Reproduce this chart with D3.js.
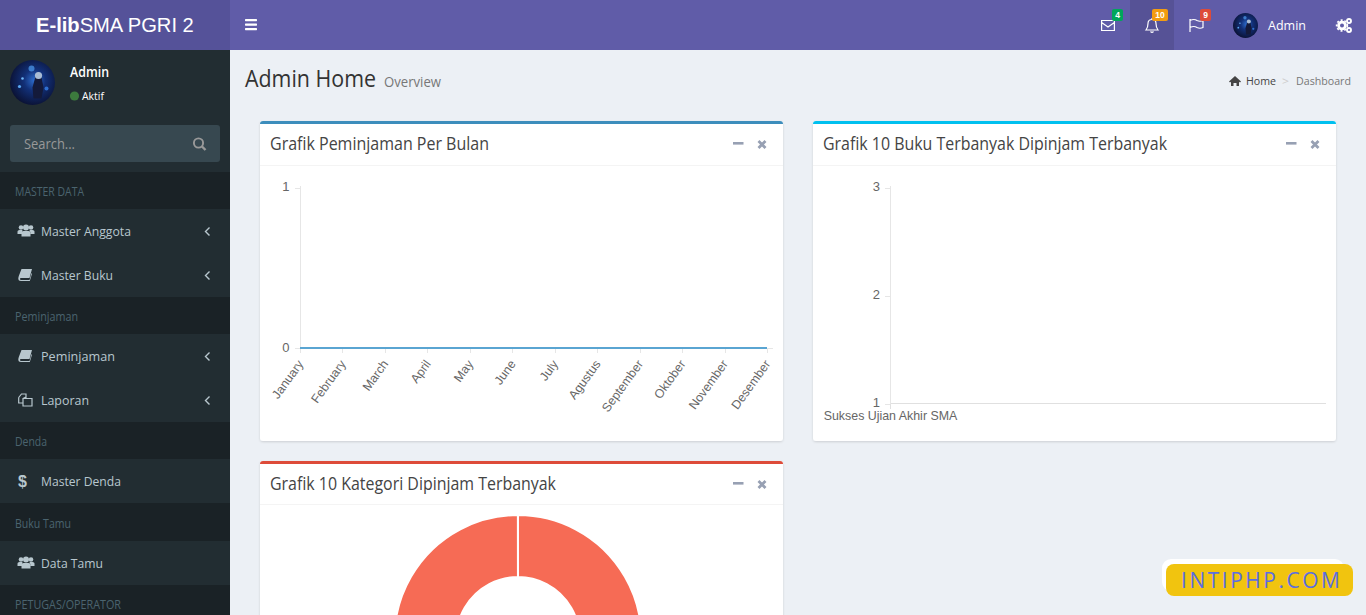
<!DOCTYPE html>
<html><head><meta charset="utf-8">
<script src="https://cdn.jsdelivr.net/npm/d3@7"></script>
<style>
html,body{margin:0;padding:0;background:#ecf0f5;overflow:hidden}
svg{display:block}
text{font-family:"Open Sans","Noto Sans",sans-serif}
.chart text{font-family:"Liberation Sans",Arial,sans-serif;fill:#666;font-size:12.4px}
</style></head><body>
<svg id="page" width="1366" height="615"></svg>
<script>
// ---- chart data ----
const months=["January","February","March","April","May","June","July","Agustus","September","Oktober","November","Desember"];
const monthlyLoans=[0,0,0,0,0,0,0,0,0,0,0,0];
const loanTicks=[0,1];
const bookTitles=["Sukses Ujian Akhir SMA"];
const bookLoans=[1];
const bookTicks=[1,2,3];
const categoryNames=["Kategori"];
const categoryLoans=[1];
// ---- page text ----
const menuLabels=["MASTER DATA","Master Anggota","Master Buku","Peminjaman","Peminjaman","Laporan","Denda","Master Denda","Buku Tamu","Data Tamu","PETUGAS/OPERATOR"];
const menuKinds=["h","i","i","h","i","i","h","i","h","i","h"];
const menuIcons=["","users","book","","book","files","","dollar","","users",""];
const menuChevron=[0,1,1,0,1,1,0,0,0,0,0];
const menuWidths=[69,90,72,63,74,48,32,80,56,62,106];

const svg=d3.select("#page");
const defs=svg.append("defs");
const g0=defs.append("radialGradient").attr("id","av").attr("cx","0.55").attr("cy","0.45").attr("r","0.6");
[["0","#2f6fd0"],["0.4","#123078"],["1","#0a0f2e"]].forEach(s=>g0.append("stop").attr("offset",s[0]).attr("stop-color",s[1]));
const sh=defs.append("filter").attr("id","sh").attr("x","-2%").attr("y","-2%").attr("width","104%").attr("height","104%");
sh.append("feDropShadow").attr("dx",0).attr("dy",1).attr("stdDeviation",0.8).attr("flood-color","#000").attr("flood-opacity",0.14);

function T(g,s,x,y,size,fill,w,opt={}){
  const t=g.append("text").attr("x",x).attr("y",y).attr("font-size",size).attr("fill",fill).text(s);
  if(w){t.attr("textLength",w).attr("lengthAdjust","spacingAndGlyphs");}
  if(opt.weight)t.attr("font-weight",opt.weight);
  if(opt.family)t.style("font-family",opt.family);
  if(opt.anchor)t.attr("text-anchor",opt.anchor);
  return t;
}
function R(g,x,y,w,h,fill,r=0){return g.append("rect").attr("x",x).attr("y",y).attr("width",w).attr("height",h).attr("rx",r).attr("fill",fill);}

// avatar: dark disc, glowing figure
function avatar(cx,cy,r){
  const g=svg.append("g").attr("transform",`translate(${cx},${cy}) scale(${r/22.5})`);
  g.append("circle").attr("r",22.5).attr("fill","url(#av)");
  g.append("circle").attr("cx",-1).attr("cy",-14).attr("r",3).attr("fill","#4f9cf0").attr("opacity",0.7);
  g.append("circle").attr("cx",-13).attr("cy",4).attr("r",1.6).attr("fill","#5aa8f5");
  g.append("circle").attr("cx",-10).attr("cy",-4).attr("r",1.3).attr("fill","#6fb6f7");
  g.append("circle").attr("cx",14).attr("cy",6).attr("r",2).attr("fill","#2f6fd0");
  g.append("path").attr("d","M3-6L9-5 11 5 9 16H1L0 5z").attr("fill","#141a3a");
  g.append("circle").attr("cx",6).attr("cy",-7).attr("r",3.6).attr("fill","#a9bcd4");
}

// ---- icons ----
function icon(g,kind,x,y,col){
  const i=g.append("g").attr("transform",`translate(${x},${y})`).attr("fill",col).attr("stroke","none");
  if(kind==="users"){
    i.append("circle").attr("cx",3).attr("cy",-3.5).attr("r",2.3);
    i.append("circle").attr("cx",13).attr("cy",-3.5).attr("r",2.3);
    i.append("circle").attr("cx",8).attr("cy",-3.5).attr("r",3);
    i.append("path").attr("d","M-0.5 3V0.5Q-0.5-1 1.5-1H4.5L3.5 3ZM16.5 3V0.5Q16.5-1 14.5-1H11.5L12.5 3ZM3.5 5.5V2Q3.5 0 5.5 0H10.5Q12.5 0 12.5 2V5.5Z");
  } else if(kind==="book"){
    i.append("path").attr("d","M3.5-6H14L11.5 3H3Q1.8 3 2 4.2Q2.2 5 3 5H11.5L13.5-2L14-1.2L11.8 6H3Q0.3 6 0.3 3.5Q0.3 2.5 0.8 1Z");
  } else if(kind==="files"){
    i.append("path").attr("fill","none").attr("stroke",col).attr("stroke-width",1.2)
      .attr("d","M0.7-2.5L3.5-6H8V-1.5M5-1.5V6H14V-1.5ZM8-6V-3L5-1.5M0.7-2.5V3H5");
  } else if(kind==="dollar"){
    i.append("text").attr("x",0).attr("y",6).attr("font-size",16).attr("font-weight",700).attr("fill",col).style("font-family","Liberation Sans").text("$");
  }
}

// ---- top bar ----
R(svg,0,0,230,50,"#555299");
R(svg,230,0,1136,50,"#605ca8");
const logo=svg.append("text").attr("x",36).attr("y",32).attr("fill","#fff").attr("font-size",20.15).style("font-family","Liberation Sans");
logo.append("tspan").attr("font-weight",700).text("E-lib");
logo.append("tspan").text("SMA PGRI 2");
[20,24.5,29].forEach(y=>R(svg,245,y-1,12,2.2,"#fff",0.6));
R(svg,1130,0,44,50,"#000").attr("opacity",0.1);
const iconLine=svg.append("g").attr("fill","none").attr("stroke","#fff").attr("stroke-width",1.2);
iconLine.append("path").attr("d","M1101.6 20.5H1114.4V30.5H1101.6ZM1101.6 22.5L1108 27L1114.4 22.5");
iconLine.append("path").attr("d","M1146 30Q1148 27.5 1148 23.5Q1148 19.5 1152 19.5Q1156 19.5 1156 23.5Q1156 27.5 1158 30ZM1150.5 31.5Q1152 33 1153.5 31.5M1152 18V19.5");
iconLine.append("path").attr("d","M1190 19V32M1190 20.5Q1194 18.5 1197 20.5Q1200 22 1203 20.5V27.5Q1200 29 1197 27.5Q1194 25.5 1190 27.5");
[["4",1112,9,11,"#00a65a"],["10",1152,9,16,"#f39c12"],["9",1200,9,11,"#dd4b39"]].forEach(b=>{
  R(svg,b[1],b[2],b[3],12,b[4],2);
  T(svg,b[0],b[1]+b[3]/2,b[2]+9,8.5,"#fff",null,{weight:700,anchor:"middle",family:"Liberation Sans"});
});
avatar(1245.5,25.5,12.5);
T(svg,"Admin",1268,30,13.5,"#fff",38);
const gear=svg.append("g").attr("fill","none").attr("stroke","#fff");
gear.append("circle").attr("cx",1342).attr("cy",25.5).attr("r",3.4).attr("stroke-width",2.8);
gear.append("circle").attr("cx",1342).attr("cy",25.5).attr("r",5.4).attr("stroke-width",1.6).attr("stroke-dasharray","2 1.9");
gear.append("circle").attr("cx",1349).attr("cy",21).attr("r",2).attr("stroke-width",1.9);
gear.append("circle").attr("cx",1349).attr("cy",30).attr("r",2).attr("stroke-width",1.9);

// ---- sidebar ----
R(svg,0,50,230,565,"#222d32");
avatar(32.5,82.5,22.5);
T(svg,"Admin",70,77,13.5,"#fff",39,{weight:600});
svg.append("circle").attr("cx",74.5).attr("cy",96).attr("r",4.6).attr("fill","#3c7a3d");
T(svg,"Aktif",82,100,11,"#fff",22);
R(svg,10,125,210,37,"#374850",3);
T(svg,"Search...",24,149,14,"#999",51);
svg.append("circle").attr("cx",198.5).attr("cy",143).attr("r",4.6).attr("fill","none").attr("stroke","#999").attr("stroke-width",1.9);
svg.append("line").attr("x1",202).attr("y1",146.5).attr("x2",205.5).attr("y2",150).attr("stroke","#999").attr("stroke-width",2.4);

const side=svg.append("g");
let rowY=172;
menuLabels.forEach((label,i)=>{
  const head=menuKinds[i]==="h", h=head?37:44;
  if(head){
    R(side,0,rowY,230,h+(i===8?1:0),"#1a2226");
    T(side,label,15,rowY+24+(i===8?1:0),12,"#4b646f",menuWidths[i]);
  } else {
    T(side,label,41,rowY+27,13.5,"#b8c7ce",menuWidths[i]);
    icon(side,menuIcons[i],18,rowY+22,"#b8c7ce");
    if(menuChevron[i]) side.append("path").attr("d",`M209.5 ${rowY+18.5}L205.5 ${rowY+22.5}L209.5 ${rowY+26.5}`).attr("fill","none").attr("stroke","#b8c7ce").attr("stroke-width",1.4);
  }
  rowY+=h+(i===8?1:0);
});

// ---- content header ----
T(svg,"Admin Home",245,87,23,"#333",131);
T(svg,"Overview",384,87,14.5,"#777",57);
svg.append("path").attr("d","M1229 81.5L1235 76L1241 81.5L1240 82.5L1239 81.7V86H1236.5V83H1233.5V86H1231V81.7L1230 82.5Z").attr("fill","#444");
T(svg,"Home",1246,85,11.5,"#444",30);
T(svg,">",1282,85,11,"#ccc",7);
T(svg,"Dashboard",1296,85,11.5,"#777",55);

// ---- boxes ----
function box(x,y,w,h,color,title,titleW,headH){
  const g=svg.append("g");
  R(g,x,y,w,h,"#fff",3).attr("filter","url(#sh)");
  g.append("path").attr("d",`M${x} ${y+3}Q${x} ${y} ${x+3} ${y}H${x+w-3}Q${x+w} ${y} ${x+w} ${y+3}Z`).attr("fill",color);
  R(g,x,y+headH,w,1,"#f4f4f4");
  T(g,title,x+10,y+29,17.5,"#444",titleW);
  R(g,x+473,y+21,10.5,2.6,"#97a0b3");
  g.append("path").attr("d",`M${x+498.5} ${y+20}L${x+505.5} ${y+27}M${x+505.5} ${y+20}L${x+498.5} ${y+27}`).attr("stroke","#97a0b3").attr("stroke-width",2.8);
  return g;
}
box(260,121,523,320,"#3c8dbc","Grafik Peminjaman Per Bulan",219,44);
box(813,121,523,320,"#00c0ef","Grafik 10 Buku Terbanyak Dipinjam Terbanyak",344,44);
box(260,461,523,180,"#dd4b39","Grafik 10 Kategori Dipinjam Terbanyak",286,43);

function styleAxis(g,c){g.selectAll("path.domain,line").attr("stroke",c).attr("stroke-width",1).attr("shape-rendering","crispEdges");}

// ---- line chart ----
const c1=svg.append("g").attr("class","chart");
const x1=d3.scalePoint().domain(months).range([300,767]);
const y1=d3.scaleLinear().domain([0,1]).range([348,187.5]);
const ax1=c1.append("g").attr("transform","translate(0,348)").call(d3.axisBottom(x1).tickSize(5).tickSizeOuter(0));
ax1.select(".domain").attr("d","M300 0.5H773");
styleAxis(ax1,"#e6e6e6");
ax1.selectAll("text").attr("text-anchor","end").attr("dy",0).attr("y",0)
  .attr("transform","translate(3.5,16) rotate(-54)");
const ay1=c1.append("g").attr("transform","translate(300,0)").call(d3.axisLeft(y1).tickValues(loanTicks).tickFormat(d3.format("d")).tickSize(5).tickSizeOuter(0));
ay1.select(".domain").attr("d","M0.5 348V185.5");
styleAxis(ay1,"#e6e6e6");
ay1.selectAll("text").attr("x",-10.5).attr("dy","0.32em").attr("transform","translate(0,-1)").style("font-size","13px");
c1.append("path").datum(monthlyLoans)
  .attr("d",d3.line().x((d,i)=>x1(months[i])).y(d=>y1(d)))
  .attr("fill","none").attr("stroke","#5aa5d2").attr("stroke-width",2);

// ---- bar chart ----
const c2=svg.append("g").attr("class","chart");
const x2=d3.scalePoint().domain(bookTitles).range([890,1326]).align(0);
const y2=d3.scaleLinear().domain([1,3]).range([403.5,188]);
const ax2=c2.append("g").attr("transform","translate(0,403.5)").call(d3.axisBottom(x2).tickSize(5).tickSizeOuter(0));
ax2.select(".domain").attr("d","M890 0H1326");
styleAxis(ax2,"#e0e0e0");
ax2.selectAll("text").attr("y",16).attr("dy",0);
const ay2=c2.append("g").attr("transform","translate(890,0)").call(d3.axisLeft(y2).tickValues(bookTicks).tickFormat(d3.format("d")).tickSize(5).tickSizeOuter(0));
ay2.select(".domain").attr("d","M0.5 403.5V186");
styleAxis(ay2,"#e6e6e6");
ay2.selectAll("text").attr("x",-10).attr("dy","0.32em").attr("transform","translate(0,-1.6)").style("font-size","13px");
c2.selectAll("rect.bar").data(bookLoans).join("rect").attr("class","bar")
  .attr("x",(d,i)=>x2(bookTitles[i])).attr("width",30)
  .attr("y",d=>y2(d)).attr("height",d=>y2(1)-y2(d)).attr("fill","#00c0ef");

// ---- doughnut ----
const pie=d3.pie().sort(null).endAngle(2*Math.PI-0.001)(categoryLoans);
const arc=d3.arc().innerRadius(61.5).outerRadius(123.5);
svg.append("g").attr("transform","translate(518,638.5)")
  .selectAll("path").data(pie).join("path")
  .attr("d",arc).attr("fill","#f66b55").attr("stroke","#fff").attr("stroke-width",2);

// ---- watermark ----
R(svg,1162,559,182,32,"#fff",9);
R(svg,1166,564,187,32,"#f1c40f",8);
T(svg,"INTIPHP.COM",1181,588,21,"#5b6ee1",159,{family:"Open Sans"}).attr("lengthAdjust","spacing");
</script></body></html>
